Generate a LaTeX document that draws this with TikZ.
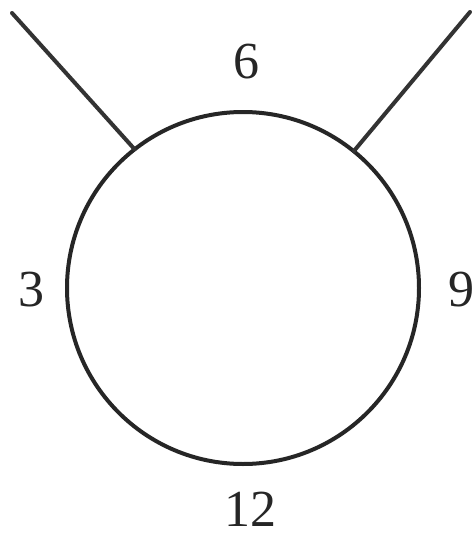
\documentclass[tikz,border=0pt]{standalone}
\usepackage{fontspec}
\setmainfont{Liberation Serif}
\begin{document}
\begin{tikzpicture}[x=1pt,y=-1pt,
  ring/.style={circle,draw=black!85,line width=4pt,minimum size=352pt,inner sep=0pt,outer sep=0pt},
  stem/.style={draw=black!80,line width=4pt,line cap=round},
  lbl/.style={font=\fontsize{52}{54}\selectfont,text=black!85,inner sep=0pt,anchor=center}]
\fill[white] (0,0) rectangle (475,536);
\useasboundingbox (0,0) rectangle (475,536);
\node[ring] (c) at (243,288) {};
\coordinate (l) at (12,13);
\coordinate (r) at (470,12);
\draw[stem] (l) -- (c.128);
\draw[stem] (r) -- (c.51);
\node[lbl] (t6) at (246,62) {6};
\node[lbl] (t3) at (32,290) {3};
\node[lbl] (t9) at (461,290) {9};
\node[lbl] (t12) at (250,509) {12};
\end{tikzpicture}
\end{document}
